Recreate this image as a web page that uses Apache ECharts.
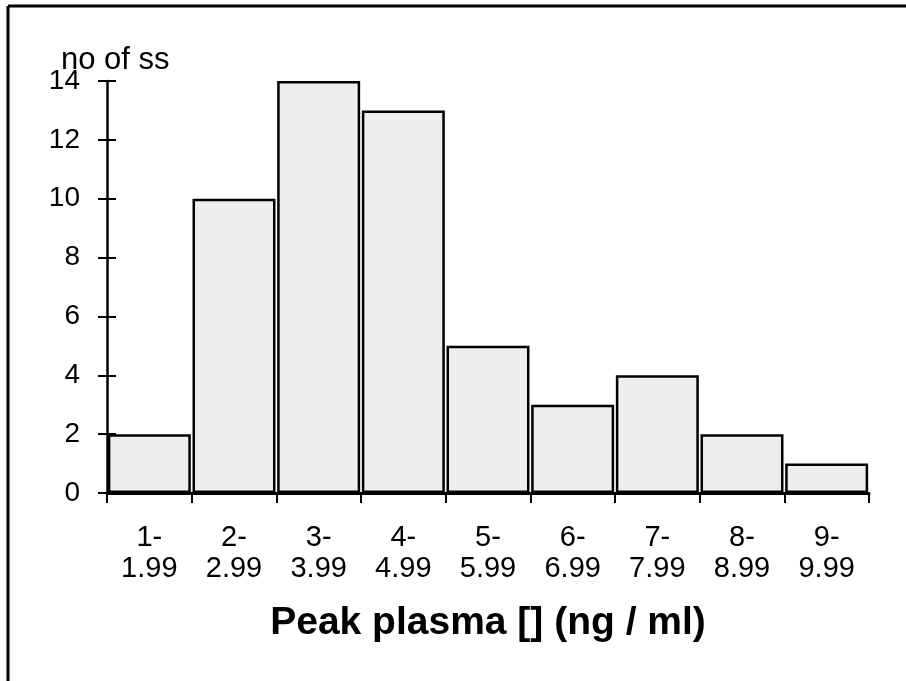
<!DOCTYPE html>
<html><head><meta charset="utf-8">
<script src="https://cdn.jsdelivr.net/npm/echarts@6/dist/echarts.min.js"></script>
<style>html,body{margin:0;padding:0;background:#fff}#c{width:906px;height:681px}</style>
</head><body><div id="c"></div>
<script>
const categories = ['1-\n1.99','2-\n2.99','3-\n3.99','4-\n4.99','5-\n5.99','6-\n6.99','7-\n7.99','8-\n8.99','9-\n9.99'];
const counts = [2, 10, 14, 13, 5, 3, 4, 2, 1];
const yMin = 0, yMax = 14, yStep = 2;
const yTitle = 'no of ss';
const xTitle = 'Peak plasma [] (ng / ml)';

const font = 'Liberation Sans, Arial, sans-serif';
const chart = echarts.init(document.getElementById('c'), null, {renderer: 'canvas'});
chart.setOption({
  animation: false,
  backgroundColor: '#fff',
  grid: {left: 107, right: 37, top: 81, bottom: 188, containLabel: false},
  graphic: [
    {type: 'line', shape: {x1: 8, y1: 6, x2: 906, y2: 6}, style: {stroke: '#000', lineWidth: 3}},
    {type: 'line', shape: {x1: 8, y1: 6, x2: 8, y2: 681}, style: {stroke: '#000', lineWidth: 3}},
    {type: 'text', left: 61, top: 45, style: {text: yTitle, font: '31px ' + font, fill: '#000'}}
  ],
  xAxis: {
    type: 'category', data: categories, boundaryGap: true,
    axisLine: {lineStyle: {color: '#000', width: 3}},
    axisTick: {show: true, alignWithLabel: false, length: 10, lineStyle: {color: '#000', width: 2}},
    axisLabel: {color: '#000', fontSize: 29, fontFamily: font, lineHeight: 31, margin: 29, interval: 0},
    name: xTitle, nameLocation: 'middle', nameGap: 111,
    nameTextStyle: {color: '#000', fontSize: 39, fontWeight: 'bold', fontFamily: font, verticalAlign: 'top'}
  },
  yAxis: [{
    type: 'value', min: yMin, max: yMax, interval: yStep,
    axisLine: {show: true, lineStyle: {color: '#000', width: 2.5}},
    axisTick: {show: true, inside: false, length: 9, lineStyle: {color: '#000', width: 2}},
    axisLabel: {color: '#000', fontSize: 28, fontFamily: font, margin: 27},
    splitLine: {show: false}
  }, {
    type: 'value', position: 'left', min: yMin, max: yMax, interval: yStep,
    axisLine: {show: false},
    axisTick: {show: true, inside: true, length: 9, lineStyle: {color: '#000', width: 2}},
    axisLabel: {show: false}, splitLine: {show: false}
  }],
  series: [{
    type: 'bar', data: counts, barCategoryGap: '2%',
    itemStyle: {color: '#eeeeee', borderColor: '#000', borderWidth: 2.5}
  }]
});
</script></body></html>
